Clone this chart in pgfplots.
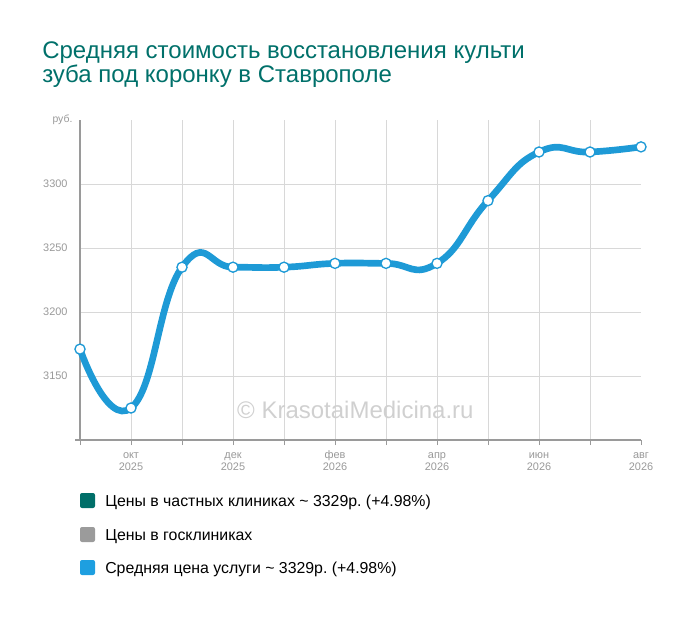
\documentclass[border=0pt]{standalone}
\usepackage{pgfplots}
\pgfplotsset{compat=1.18}
\usepackage{fontspec}
\setmainfont{Liberation Sans}
\frenchspacing
\definecolor{titlecol}{HTML}{00706A}
\definecolor{linecol}{HTML}{1E9AD6}
\definecolor{ticklab}{HTML}{999999}
\definecolor{gridcol}{HTML}{D8D8D8}
\definecolor{axcol}{HTML}{9A9A9A}
\definecolor{wmcol}{HTML}{D0D0D0}
\definecolor{privcol}{HTML}{006F69}
\definecolor{statecol}{HTML}{9B9B9B}
\definecolor{avgcol}{HTML}{1E9FE0}
\pgfplotstableread{
x y
0 3171
1 3125
2 3235
3 3235
4 3235
5 3238
6 3238
7 3238
8 3287
9 3325
10 3325
11 3329
}\avgdata
\begin{document}
\begin{tikzpicture}
\begin{scope}[x=0.75pt,y=-0.75pt]
\useasboundingbox (0,0) rectangle (700,617);
\node[anchor=base west, inner sep=0, text=titlecol,
  font=\fontsize{18}{18}\selectfont] at (42,59)
  {Средняя стоимость восстановления культи};
\node[anchor=base west, inner sep=0, text=titlecol,
  font=\fontsize{18}{18}\selectfont] at (42,83)
  {зуба под коронку в Ставрополе};
% legend
\fill[privcol, rounded corners=1.5pt] (80,493) rectangle (95,508);
\node[anchor=base west, inner sep=0, font=\fontsize{11.9}{13}\selectfont] at (105,506) {Цены в частных клиниках \char`~{} 3329р. (+4.98\%)};
\fill[statecol, rounded corners=1.5pt] (80,527) rectangle (95,542);
\node[anchor=base west, inner sep=0, font=\fontsize{11.9}{13}\selectfont] at (105,540) {Цены в госклиниках};
\fill[avgcol, rounded corners=1.5pt] (80,560) rectangle (95,575);
\node[anchor=base west, inner sep=0, font=\fontsize{11.9}{13}\selectfont] at (105,573) {Средняя цена услуги \char`~{} 3329р. (+4.98\%)};
\end{scope}
\begin{axis}[
  at={(60pt,-330pt)}, anchor=south west,
  scale only axis, width=420.75pt, height=240pt,
  xmin=0, xmax=11, ymin=3100, ymax=3350,
  axis x line*=bottom, axis y line*=left,
  axis line style={-, draw=axcol, line width=0.8pt},
  clip=false,
  xtick={0,...,10},
  xticklabels={,\strut окт\\2025,,\strut дек\\2025,,\strut фев\\2026,,\strut апр\\2026,,\strut июн\\2026,},
  extra x ticks={11},
  extra x tick labels={\strut авг\\2026},
  extra x tick style={grid=none},
  ytick={3150,3200,3250,3300},
  grid=major,
  major grid style={draw=gridcol, line width=0.6pt},
  tick align=outside,
  major tick length=3.8pt,
  xtick style={draw=axcol, line width=0.6pt},
  ytick style={draw=none},
  tick label style={text=ticklab, font=\fontsize{8.2}{9}\selectfont},
  xticklabel style={align=center, yshift=-0.5pt},
  yticklabel style={xshift=-2pt},
  /pgf/number format/assume math mode=true,
  /pgf/number format/1000 sep={},
]
\draw[axcol, line width=0.8pt] (rel axis cs:0,0) -- ([xshift=-3.75pt]rel axis cs:0,0);
\node[anchor=base, text=wmcol, font=\fontsize{18}{20}\selectfont] at (axis cs:5.4,3117) {© KrasotaiMedicina.ru};
\node[anchor=east, text=ticklab, font=\fontsize{7.8}{8.5}\selectfont, inner sep=0] at (rel axis cs:0,1) [xshift=-5.5pt] {руб.};
\addplot[linecol, line width=5pt, smooth, tension=0.85,
  mark=*, mark size=3.8pt, mark options={fill=white, draw=linecol, line width=1pt}]
  table[x=x,y=y] {\avgdata};
\end{axis}
\end{tikzpicture}
\end{document}
